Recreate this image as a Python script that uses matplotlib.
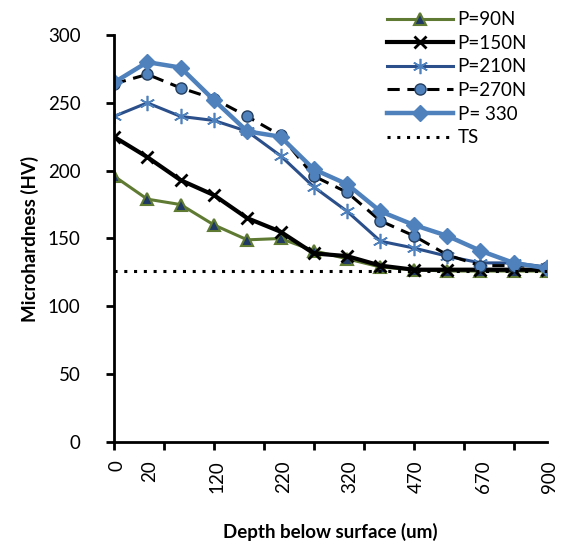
import matplotlib.pyplot as plt
import numpy as np

plt.rcParams['font.family'] = ['Lato', 'DejaVu Sans']

depth = ['0', '20', '70', '120', '170', '220', '270', '320', '370', '470', '570', '670', '770', '900']
shown = ['0', '20', '120', '220', '320', '470', '670', '900']

p90 = [196, 179, 175, 160, 149, 150, 141, 135, 129, 127, 126, 126, 126, 126]
p150 = [225, 210, 193, 182, 165, 155, 139, 137, 130, 127, 127, 127, 127, 127]
p210 = [240, 250, 240, 237, 229, 211, 188, 170, 148, 143, 137, 132, 132, 129]
p270 = [264, 271, 261, 253, 240, 226, 196, 184, 163, 152, 138, 130, 130, 129]
p330 = [265, 280, 276, 252, 229, 225, 201, 190, 170, 160, 152, 141, 132, 128]
ts = 126

x = np.arange(len(depth))

fig = plt.figure(figsize=(5.63, 5.47), dpi=100)
ax = fig.add_axes([0.2025, 0.192, 0.769, 0.744])

ax.plot(x, p90, color='#5F7A32', lw=2.2, marker='^', ms=8,
        mfc='#1F3864', mec='#5F7A32', mew=1.5, label='P=90N')
ax.plot(x, p150, color='black', lw=3.0, marker='x', ms=9, mew=2, label='P=150N')
ax.plot(x, p210, color='#2A4F8A', lw=2.2, marker=(6, 2, 0), ms=11,
        mec='#4F81BD', mew=1.2, label='P=210N')
ax.plot(x, p270, color='black', lw=2.2, ls=(0, (4, 2.5)), marker='o', ms=8,
        mfc='#4F81BD', mec='#243F60', mew=1, label='P=270N')
ax.plot(x, p330, color='#4F81BD', lw=3.2, marker='D', ms=8,
        mfc='#4F81BD', mec='#4F81BD', label='P= 330')
ax.plot(x, [ts] * len(x), color='black', lw=2.2, ls=(0, (1, 2.2)), label='TS')

ax.set_xlim(0, len(depth) - 1)
ax.set_ylim(0, 300)
ax.set_yticks(np.arange(0, 301, 50))

# tick marks every 1.5 categories, labels on selected categories
ax.set_xticks(np.arange(0, 12.1, 1.5))
ax.set_xticklabels([])
for s in shown:
    ax.text(depth.index(s) + 0.08, -0.045, s, transform=ax.get_xaxis_transform(),
            rotation=90, ha='center', va='top', fontsize=13.5)
ax.tick_params(axis='x', which='major', length=6, width=2, direction='out')
ax.tick_params(axis='y', length=6, width=2, direction='out', labelsize=13.5, pad=18)

for s in ['top', 'right']:
    ax.spines[s].set_visible(False)
for s in ['left', 'bottom']:
    ax.spines[s].set_linewidth(2)

fig.text(0.587, 0.028, 'Depth below surface (um)', ha='center', va='center',
         fontsize=13.5, fontweight='bold')
ax.set_ylabel('Microhardness (HV)', fontsize=13.5, fontweight='bold', labelpad=6)

fig.legend(loc='upper left', bbox_to_anchor=(0.668, 1.0), frameon=False,
           fontsize=13.5, handlelength=3.5, labelspacing=0.35, handletextpad=0.25,
           borderaxespad=0.2)

fig.savefig('out.png', dpi=100)
